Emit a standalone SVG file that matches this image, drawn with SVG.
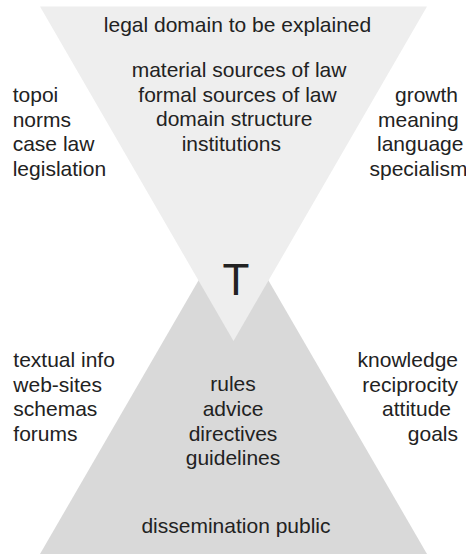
<svg xmlns="http://www.w3.org/2000/svg" width="466" height="554" viewBox="0 0 466 554">
  <style>
    text { font-family: "Liberation Sans", Arial, Helvetica, sans-serif; font-size: 21px; fill: #222222; }
    .mid { text-anchor: middle; }
    .big { font-size: 44px; }
  </style>
  <rect width="466" height="554" fill="#ffffff"/>

  <!-- lower (dissemination) triangle -->
  <g id="lower-triangle">
    <polygon points="233.5,220 427,554 40,554" fill="#d9d9d9"/>
  </g>

  <!-- upper (legal domain) triangle, overlapping the lower one -->
  <g id="upper-triangle">
    <polygon points="40,6.5 427,6.5 233.5,341" fill="#eeeeee"/>
  </g>

  <g id="upper-title">
    <text x="237.5" y="32" class="mid">legal domain to be explained</text>
  </g>

  <g id="upper-contents">
    <text x="131.7" y="77">material sources of law</text>
    <text x="138.3" y="101.6">formal sources of law</text>
    <text x="156" y="126.2">domain structure</text>
    <text x="181.7" y="150.8">institutions</text>
  </g>

  <g id="upper-left">
    <text x="12.7" y="102">topoi</text>
    <text x="12.7" y="126.6">norms</text>
    <text x="12.7" y="151.2">case law</text>
    <text x="12.7" y="175.8">legislation</text>
  </g>

  <g id="upper-right">
    <text x="395" y="102">growth</text>
    <text x="378" y="126.6">meaning</text>
    <text x="377" y="151.2">language</text>
    <text x="369.5" y="175.8">specialism</text>
  </g>

  <g id="centre">
    <text x="236" y="295" class="mid big">T</text>
  </g>

  <g id="lower-left">
    <text x="13.3" y="367">textual info</text>
    <text x="13.3" y="391.6">web-sites</text>
    <text x="13.3" y="416.2">schemas</text>
    <text x="13.3" y="440.8">forums</text>
  </g>

  <g id="lower-contents">
    <text x="233" y="391" class="mid">rules</text>
    <text x="233" y="415.8" class="mid">advice</text>
    <text x="233" y="440.6" class="mid">directives</text>
    <text x="233" y="465.4" class="mid">guidelines</text>
  </g>

  <g id="lower-right">
    <text x="458" y="367" text-anchor="end">knowledge</text>
    <text x="458" y="391.6" text-anchor="end">reciprocity</text>
    <text x="451" y="416.2" text-anchor="end">attitude</text>
    <text x="458" y="440.8" text-anchor="end">goals</text>
  </g>

  <g id="lower-title">
    <text x="236" y="533" class="mid">dissemination public</text>
  </g>
</svg>
